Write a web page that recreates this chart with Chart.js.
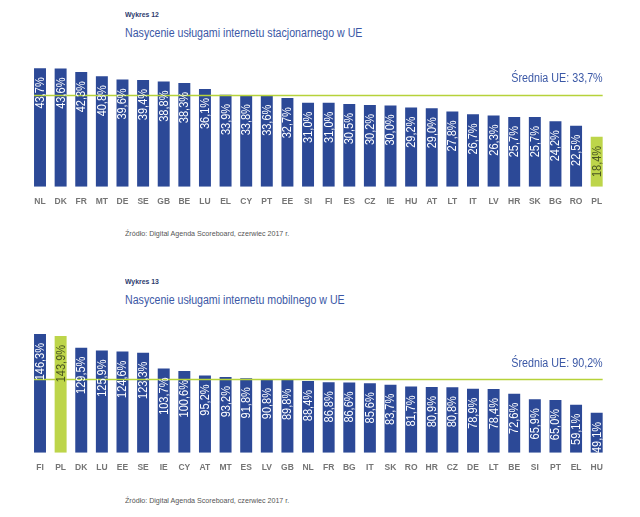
<!DOCTYPE html>
<html>
<head>
<meta charset="utf-8">
<script src="https://cdn.jsdelivr.net/npm/chart.js@4.4.1/dist/chart.umd.min.js"></script>
<style>
  html, body { margin: 0; padding: 0; background: #fff; }
  #wrap { position: relative; width: 640px; height: 517px; overflow: hidden; background: #fff; }
  canvas { position: absolute; left: 0; }
  .t { position: absolute; white-space: nowrap; font-family: "Liberation Sans", Arial, sans-serif; transform-origin: 0 50%; line-height: 1; }
  .num { font-size: 8px; font-weight: bold; color: #2d3b6e; transform: scaleX(0.86); }
  .ttl { font-size: 12.5px; color: #3b58a6; transform: scaleX(0.85); }
  .src { font-size: 8px; color: #555; transform: scaleX(0.89); }
</style>
</head>
<body>
<div id="wrap">
  <div class="t num" style="left:125px;top:11px;">Wykres 12</div>
  <div class="t ttl" style="left:125px;top:27px;">Nasycenie usługami internetu stacjonarnego w UE</div>
  <div class="t src" style="left:125px;top:230px;">Źródło: Digital Agenda Scoreboard, czerwiec 2017 r.</div>
  <div class="t num" style="left:125px;top:278px;">Wykres 13</div>
  <div class="t ttl" style="left:125px;top:294px;">Nasycenie usługami internetu mobilnego w UE</div>
  <div class="t src" style="left:125px;top:497px;">Źródło: Digital Agenda Scoreboard, czerwiec 2017 r.</div>
  <canvas id="c1" width="640" height="258" style="top:0px;"></canvas>
  <canvas id="c2" width="640" height="259" style="top:258px;"></canvas>
</div>
<script>
// ---- Data: Wykres 12 (fixed broadband) ----
const fixedCountries = ["NL","DK","FR","MT","DE","SE","GB","BE","LU","EL","CY","PT","EE","SI","FI","ES","CZ","IE","HU","AT","LT","IT","LV","HR","SK","BG","RO","PL"];
const fixedValues = [43.7,43.6,42.3,40.8,39.6,39.4,38.8,38.3,36.1,33.9,33.8,33.6,32.7,31.0,31.0,30.5,30.2,30.0,29.2,29.0,27.8,26.7,26.3,25.7,25.7,24.2,22.5,18.4];
const fixedAverage = 33.7;

// ---- Data: Wykres 13 (mobile broadband) ----
const mobileCountries = ["FI","PL","DK","LU","EE","SE","IE","CY","AT","MT","ES","LV","GB","NL","FR","BG","IT","SK","RO","HR","CZ","DE","LT","BE","SI","PT","EL","HU"];
const mobileValues = [146.3,143.9,129.5,125.9,124.6,123.3,103.7,100.6,95.2,93.2,91.8,90.8,89.8,88.4,86.8,86.6,85.6,83.7,81.7,80.9,80.8,78.9,78.4,72.6,65.9,65.0,59.1,49.1];
const mobileAverage = 90.2;

const highlight = "PL";

const BLUE = "#2c4997";
const GREEN = "#bdd54a";
const LINE = "#b6d23a";
const LABEL_FONT = '12.5px "Liberation Sans", Arial, sans-serif';

function fmt(v) { return v.toFixed(1).replace(".", ",") + "%"; }

const overlay = {
  id: "overlay",
  afterDatasetsDraw(chart, args, opts) {
    const ctx = chart.ctx;
    const meta = chart.getDatasetMeta(0);
    const y = chart.scales.y;
    const first = meta.data[0], last = meta.data[meta.data.length - 1];
    const x0 = first.x - first.width / 2;
    const x1 = last.x + last.width / 2;
    const ly = y.getPixelForValue(opts.average);
    ctx.save();
    // average line
    ctx.strokeStyle = LINE;
    ctx.lineWidth = 1.5;
    ctx.beginPath();
    ctx.moveTo(x0, ly);
    ctx.lineTo(x1, ly);
    ctx.stroke();
    // average label
    ctx.save();
    ctx.translate(x1, ly - 13);
    ctx.scale(0.86, 1);
    ctx.fillStyle = "#3b58a6";
    ctx.font = '12.5px "Liberation Sans", Arial, sans-serif';
    ctx.textAlign = "right";
    ctx.textBaseline = "alphabetic";
    ctx.fillText("Średnia UE: " + fmt(opts.average), 0, 0);
    ctx.restore();
    // value labels
    const labels = chart.data.labels;
    const vals = chart.data.datasets[0].data;
    ctx.font = LABEL_FONT;
    meta.data.forEach((bar, i) => {
      ctx.save();
      ctx.translate(bar.x, bar.y + 9);
      ctx.rotate(-Math.PI / 2);
      ctx.scale(0.88, 1);
      ctx.textAlign = "right";
      ctx.textBaseline = "middle";
      ctx.fillStyle = labels[i] === highlight ? "#4a5622" : "#ffffff";
      ctx.fillText(fmt(vals[i]), 0, 0.5);
      ctx.restore();
    });
    ctx.restore();
  }
};

function makeChart(id, cats, vals, avg, yMax, pad) {
  return new Chart(document.getElementById(id), {
    type: "bar",
    data: {
      labels: cats,
      datasets: [{
        data: vals,
        backgroundColor: cats.map(c => c === highlight ? GREEN : BLUE),
        borderWidth: 0,
        categoryPercentage: 1.0,
        barPercentage: 0.58
      }]
    },
    options: {
      responsive: false,
      animation: false,
      devicePixelRatio: 1,
      layout: { padding: pad },
      plugins: {
        legend: { display: false },
        tooltip: { enabled: false },
        overlay: { average: avg }
      },
      scales: {
        x: {
          grid: { display: false, drawTicks: false },
          border: { display: false },
          afterFit(scale) { scale.height = 21; },
          ticks: {
            color: "#757575",
            padding: 10,
            font: { family: '"Liberation Sans", Arial, sans-serif', size: 8.5, weight: "bold" },
            maxRotation: 0,
            autoSkip: false
          }
        },
        y: { display: false, min: 0, max: yMax }
      }
    },
    plugins: [overlay]
  });
}

makeChart("c1", fixedCountries, fixedValues, fixedAverage, 50,
  { left: 29.7, right: 33, top: 51.25, bottom: 50.3 });
makeChart("c2", mobileCountries, mobileValues, mobileAverage, 167,
  { left: 29.7, right: 33, top: 59.2, bottom: 43.3 });
</script>
</body>
</html>
